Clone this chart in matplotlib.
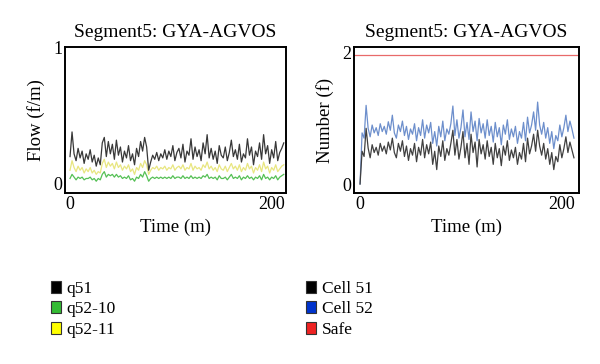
import numpy as np
import matplotlib
matplotlib.use('Agg')
import matplotlib.pyplot as plt
from matplotlib.patches import Patch

plt.rcParams['font.family'] = ['Liberation Serif', 'DejaVu Serif']

# time axis (minutes), sampled every 2 min
time = np.arange(0, 213, 2)

# left panel: flows (f/m)
q51 = [0.20, 0.38, 0.22, 0.17, 0.26, 0.19, 0.24, 0.15, 0.22, 0.18,
       0.25, 0.16, 0.21, 0.13, 0.19, 0.14, 0.30, 0.34, 0.20, 0.31,
       0.22, 0.29, 0.18, 0.32, 0.21, 0.27, 0.16, 0.24, 0.19, 0.28,
       0.17, 0.22, 0.14, 0.26, 0.20, 0.31, 0.24, 0.34, 0.27, 0.10,
       0.16, 0.21, 0.18, 0.23, 0.17, 0.22, 0.19, 0.25, 0.18, 0.24,
       0.20, 0.28, 0.17, 0.23, 0.26, 0.19, 0.29, 0.16, 0.24, 0.21,
       0.33, 0.18, 0.27, 0.20, 0.25, 0.17, 0.30, 0.22, 0.36, 0.19,
       0.26, 0.18, 0.24, 0.15, 0.28, 0.21, 0.19, 0.27, 0.17, 0.23,
       0.32, 0.20, 0.25, 0.18, 0.29, 0.16, 0.22, 0.19, 0.33, 0.21,
       0.27, 0.14, 0.24, 0.20, 0.30, 0.18, 0.36, 0.22, 0.28, 0.15,
       0.25, 0.19, 0.31, 0.17, 0.23, 0.26, 0.30]
q52_11 = [0.10, 0.17, 0.12, 0.09, 0.13, 0.10, 0.12, 0.08, 0.11, 0.09,
          0.12, 0.08, 0.10, 0.07, 0.09, 0.08, 0.15, 0.18, 0.12, 0.16,
          0.13, 0.15, 0.11, 0.16, 0.12, 0.14, 0.10, 0.13, 0.11, 0.14,
          0.09, 0.11, 0.07, 0.12, 0.10, 0.15, 0.12, 0.17, 0.14, 0.07,
          0.10, 0.12, 0.11, 0.13, 0.10, 0.12, 0.11, 0.13, 0.10, 0.12,
          0.11, 0.14, 0.10, 0.12, 0.13, 0.11, 0.14, 0.10, 0.12, 0.11,
          0.15, 0.10, 0.13, 0.11, 0.12, 0.10, 0.14, 0.12, 0.16, 0.11,
          0.13, 0.10, 0.12, 0.09, 0.14, 0.11, 0.10, 0.13, 0.09, 0.12,
          0.15, 0.11, 0.13, 0.10, 0.14, 0.09, 0.12, 0.10, 0.15, 0.11,
          0.13, 0.08, 0.12, 0.10, 0.14, 0.09, 0.16, 0.11, 0.13, 0.08,
          0.12, 0.10, 0.14, 0.09, 0.11, 0.13, 0.14]
q52_10 = [0.04, 0.07, 0.05, 0.03, 0.05, 0.04, 0.05, 0.03, 0.04, 0.04,
          0.05, 0.03, 0.04, 0.02, 0.04, 0.03, 0.07, 0.09, 0.05, 0.07,
          0.06, 0.07, 0.05, 0.07, 0.05, 0.06, 0.04, 0.05, 0.04, 0.06,
          0.03, 0.04, 0.02, 0.05, 0.04, 0.07, 0.05, 0.09, 0.06, 0.02,
          0.04, 0.05, 0.04, 0.05, 0.04, 0.05, 0.04, 0.05, 0.04, 0.05,
          0.04, 0.06, 0.04, 0.05, 0.05, 0.04, 0.06, 0.04, 0.05, 0.04,
          0.06, 0.04, 0.05, 0.04, 0.05, 0.04, 0.06, 0.05, 0.07, 0.04,
          0.05, 0.04, 0.05, 0.03, 0.06, 0.04, 0.04, 0.05, 0.03, 0.05,
          0.07, 0.04, 0.05, 0.04, 0.06, 0.03, 0.05, 0.04, 0.06, 0.04,
          0.05, 0.03, 0.05, 0.04, 0.06, 0.03, 0.07, 0.04, 0.05, 0.03,
          0.05, 0.04, 0.06, 0.03, 0.05, 0.06, 0.07]

# right panel: number of flights in cells
cell52 = [0.00, 0.78, 0.70, 1.20, 0.85, 0.72, 0.90, 0.78, 0.86, 0.74,
          0.92, 0.80, 0.88, 0.76, 0.95, 0.82, 1.05, 0.78, 0.70, 0.90,
          0.80, 0.96, 0.74, 0.88, 0.68, 0.84, 0.76, 0.92, 0.66, 0.86,
          0.74, 0.98, 0.70, 0.90, 0.78, 0.94, 0.62, 0.80, 0.58, 0.88,
          0.72, 0.96, 0.66, 0.84, 0.76, 0.92, 1.19, 0.74, 0.98, 0.70,
          0.86, 1.13, 0.72, 0.94, 0.68, 1.10, 0.80, 0.96, 0.66, 1.00,
          0.78, 0.92, 0.70, 0.98, 0.74, 0.88, 0.64, 0.94, 0.72, 0.86,
          0.60, 0.90, 0.76, 0.98, 0.68, 0.84, 0.72, 0.88, 0.62, 0.80,
          0.70, 0.94, 0.66, 1.02, 0.78, 0.90, 1.10, 0.82, 1.25, 0.90,
          0.76, 0.94, 0.70, 0.86, 0.62, 0.80, 0.54, 0.74, 0.66, 0.90,
          0.72, 0.86, 1.05, 0.80, 0.96, 0.84, 0.70]
cell51 = [0.00, 0.50, 0.42, 0.85, 0.55, 0.40, 0.60, 0.48, 0.56, 0.44,
          0.62, 0.50, 0.58, 0.46, 0.64, 0.52, 0.70, 0.48, 0.40, 0.62,
          0.50, 0.66, 0.42, 0.58, 0.36, 0.54, 0.44, 0.62, 0.34, 0.56,
          0.44, 0.68, 0.40, 0.60, 0.46, 0.64, 0.30, 0.50, 0.22, 0.58,
          0.42, 0.66, 0.36, 0.54, 0.44, 0.62, 0.82, 0.44, 0.68, 0.38,
          0.56, 0.80, 0.40, 0.62, 0.30, 0.76, 0.48, 0.64, 0.26, 0.68,
          0.46, 0.60, 0.38, 0.66, 0.42, 0.56, 0.30, 0.62, 0.40, 0.54,
          0.28, 0.58, 0.44, 0.66, 0.36, 0.52, 0.40, 0.56, 0.30, 0.48,
          0.38, 0.62, 0.34, 0.70, 0.46, 0.58, 0.76, 0.50, 0.82, 0.58,
          0.44, 0.62, 0.38, 0.54, 0.30, 0.48, 0.22, 0.42, 0.34, 0.60,
          0.40, 0.54, 0.72, 0.48, 0.64, 0.52, 0.40]
safe_level = 1.97

title = 'Segment5: GYA-AGVOS'

fig = plt.figure(figsize=(6, 3.64), dpi=100)
ax1 = fig.add_axes([0.1083, 0.4698, 0.368, 0.401])
ax2 = fig.add_axes([0.59, 0.4698, 0.375, 0.401])

ax1.plot(time, q52_11, color='#e8e680', lw=0.9)
ax1.plot(time, q52_10, color='#55c055', lw=0.9)
ax1.plot(time, q51, color='#383838', lw=0.9)
ax1.set_xlim(-5, 214)
ax1.set_ylim(-0.066, 1)
ax1.set_yticks([0, 1])
ax1.set_xticks([0, 200])
ax1.set_ylabel('Flow (f/m)', fontsize=13.5, labelpad=6)
ax1.set_xlabel('Time (m)', fontsize=13.5)
ax1.set_title(title, fontsize=14, pad=7)

ax2.plot(time, cell52, color='#6d8fcc', lw=0.9)
ax2.plot(time, cell51, color='#404040', lw=0.9)
ax2.axhline(safe_level, color='#e86a6a', lw=0.9)
ax2.set_xlim(-6, 217)
ax2.set_ylim(-0.137, 2.09)
ax2.set_yticks([0, 2])
ax2.set_xticks([0, 200])
ax2.set_ylabel('Number (f)', fontsize=13.5, labelpad=6)
ax2.set_xlabel('Time (m)', fontsize=13.5)
ax2.set_title(title, fontsize=14, pad=7)

for ax in (ax1, ax2):
    ax.tick_params(length=0, labelsize=13, pad=2)
    for s in ax.spines.values():
        s.set_linewidth(1.4)

def legend(x, labels, colors):
    handles = [Patch(facecolor=c, edgecolor='#333333', lw=0.8) for c in colors]
    fig.legend(handles, labels, loc='upper left', bbox_to_anchor=(x, 1 - 272 / 364),
               frameon=False, fontsize=12.5, borderpad=0, labelspacing=0.25,
               handlelength=0.62, handleheight=0.7, handletextpad=0.3)

legend(42 / 600, ['q51', 'q52-10', 'q52-11'], ['#000000', '#33bb33', '#ffff00'])
legend(297 / 600, ['Cell 51', 'Cell 52', 'Safe'], ['#000000', '#0033cc', '#ee2222'])

fig.savefig('out.png', dpi=100)
